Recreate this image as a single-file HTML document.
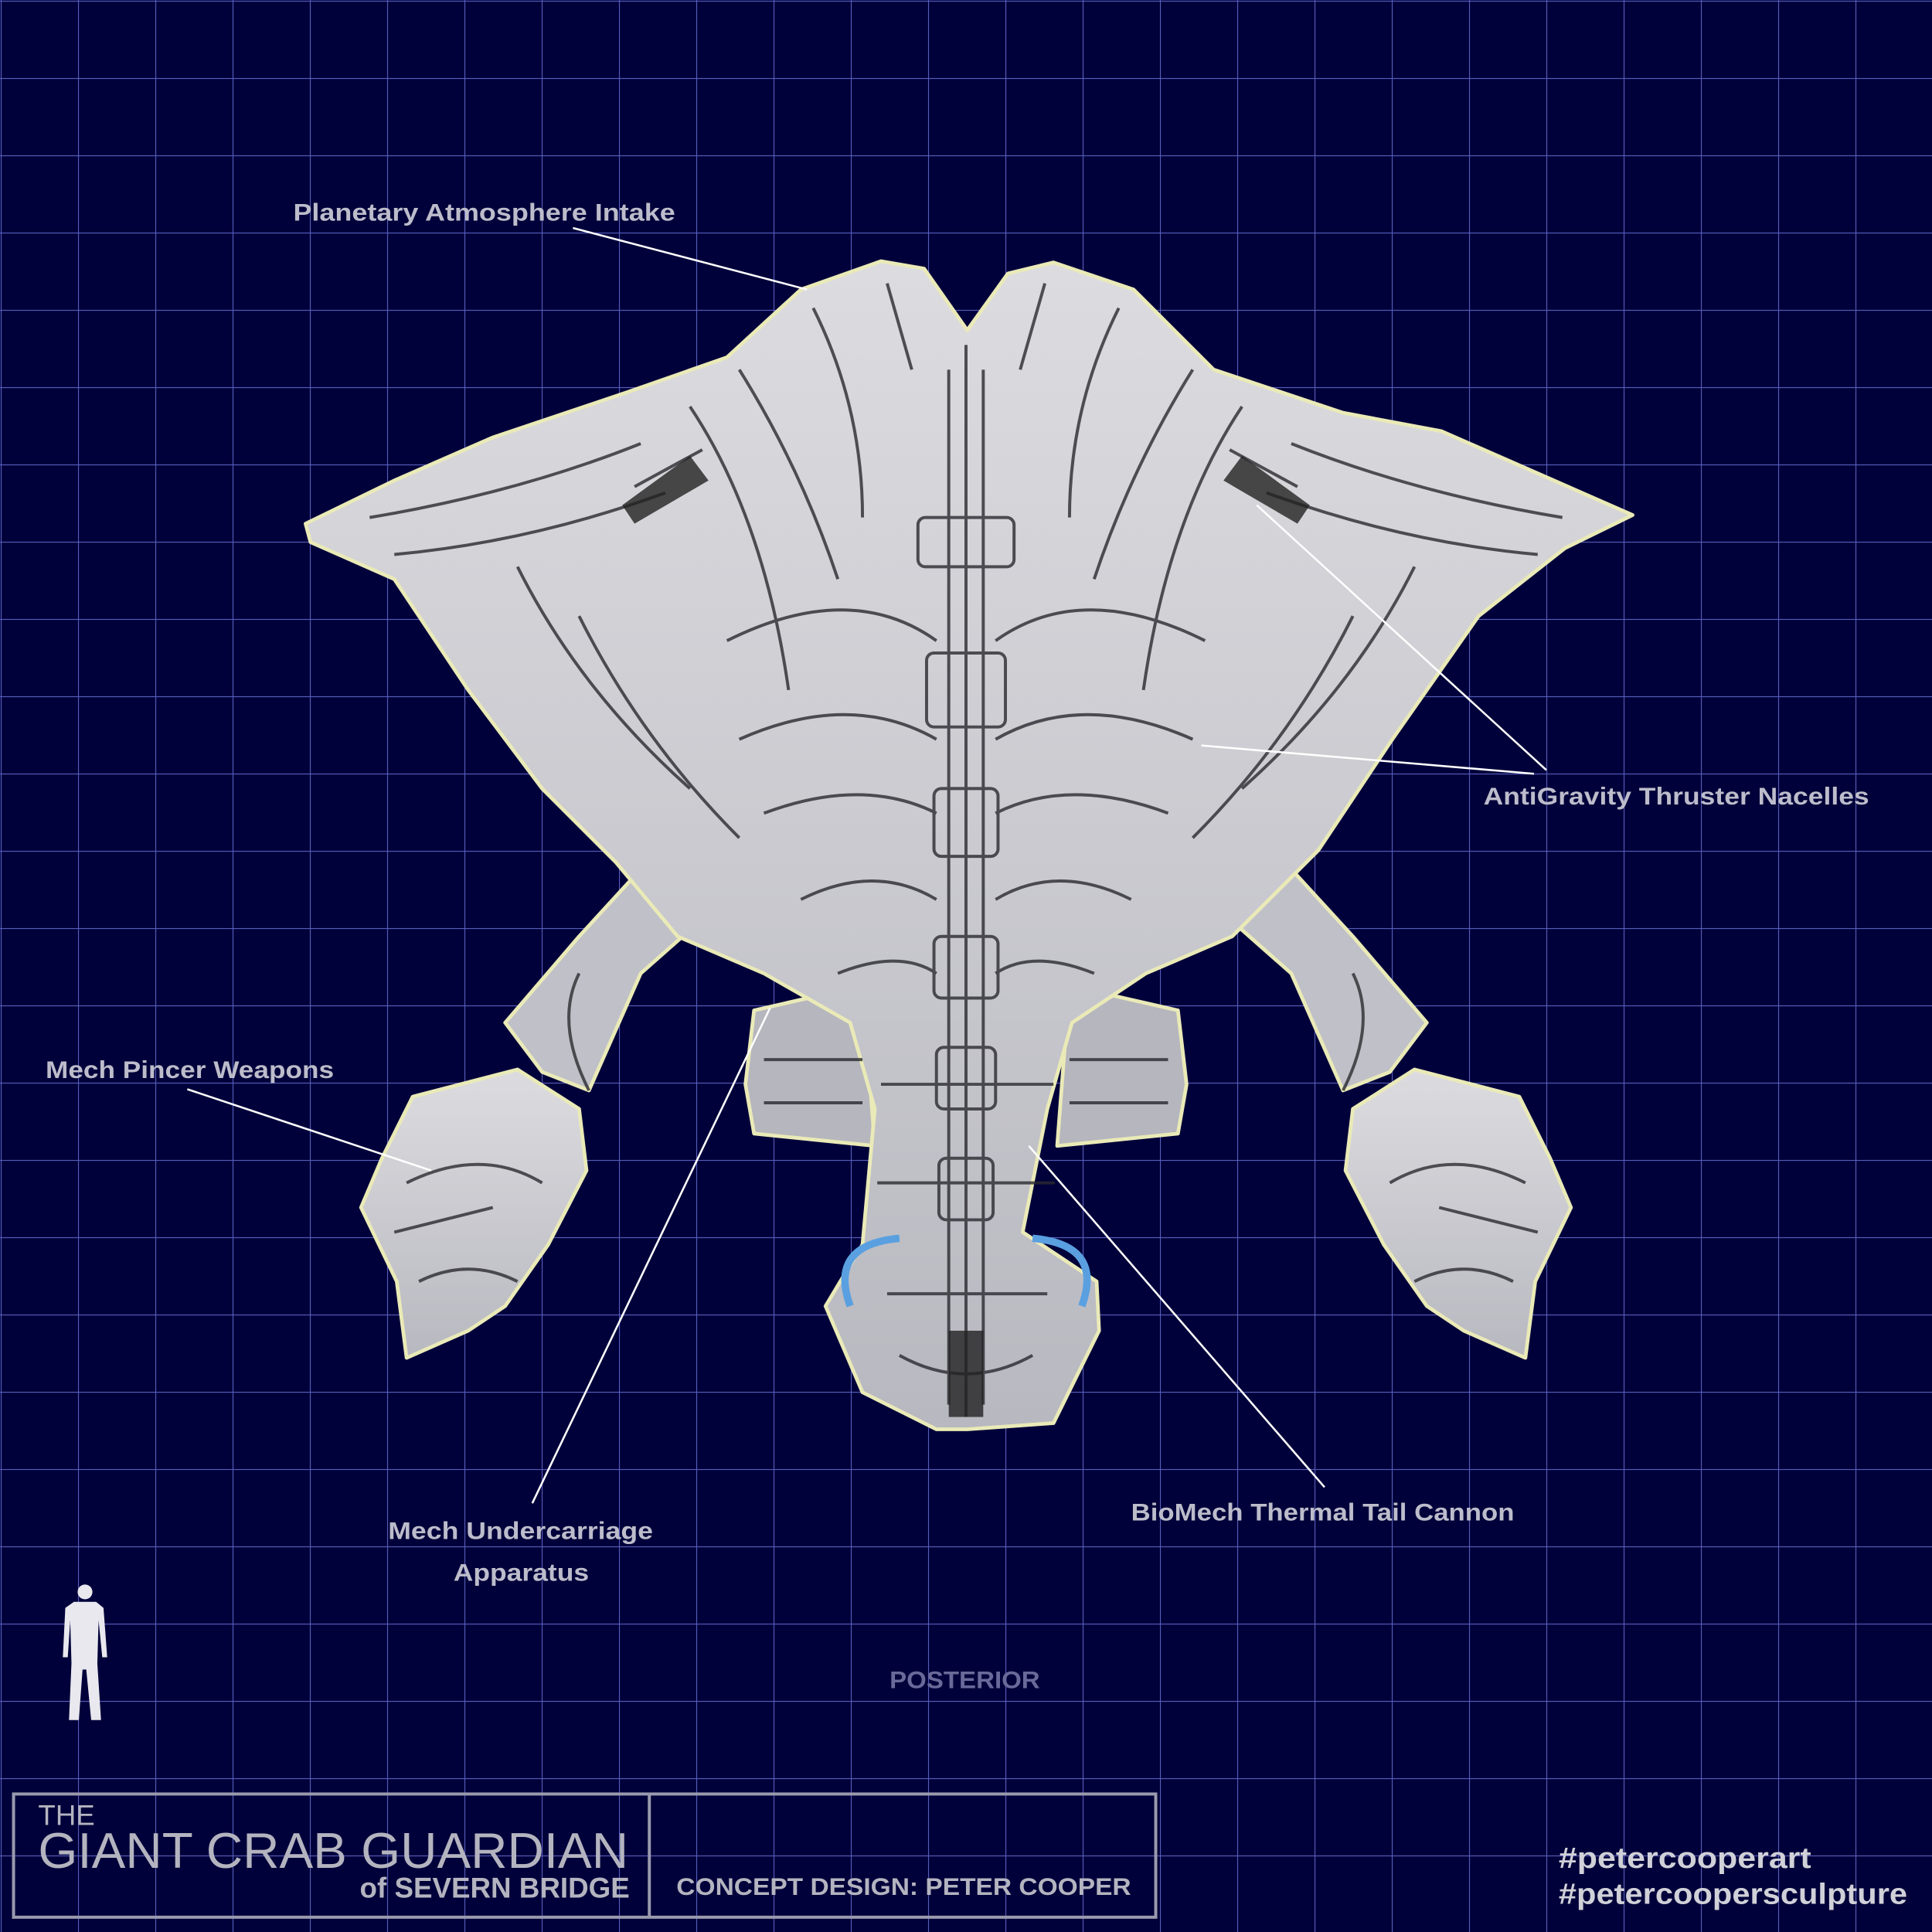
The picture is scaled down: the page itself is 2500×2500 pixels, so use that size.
<!DOCTYPE html>
<html><head><meta charset="utf-8"><style>
html,body{margin:0;padding:0;background:#00003a;}
svg{display:block}
</style></head><body>
<svg width="2500" height="2500" viewBox="0 0 1568 1568" xmlns="http://www.w3.org/2000/svg">
<defs>
<pattern id="g" width="62.72" height="62.72" patternUnits="userSpaceOnUse" x="0.6" y="0.6">
<path d="M0 0H62.72M0 0V62.72" stroke="#5860bc" stroke-width="1.4" fill="none"/>
</pattern>
<linearGradient id="body" x1="0" y1="0" x2="0" y2="1">
<stop offset="0" stop-color="#dcdce0"/><stop offset="1" stop-color="#b8b8c0"/>
</linearGradient>
</defs>
<rect width="1568" height="1568" fill="#00003a"/>
<rect width="1568" height="1568" fill="url(#g)"/>

<g stroke="#eaeab8" stroke-width="3" stroke-linejoin="round">
<polygon fill="#c0c0c8" points="565,675 605,715 520,790 478,885 440,870 410,830 470,760 525,700"/>
<polygon fill="#c0c0c8" points="1003,675 963,715 1048,790 1090,885 1128,870 1158,830 1098,760 1043,700"/>
<polygon fill="url(#body)" points="335,890 420,868 470,900 476,950 445,1010 410,1060 380,1080 330,1102 322,1040 293,980 310,940"/>
<polygon fill="url(#body)" points="1233,890 1148,868 1098,900 1092,950 1123,1010 1158,1060 1188,1080 1238,1102 1246,1040 1275,980 1258,940"/>
<polygon fill="#b6b6be" points="612,820 700,800 710,930 612,920 605,880"/>
<polygon fill="#b6b6be" points="956,820 868,800 858,930 956,920 963,880"/>
<polygon fill="url(#body)" points="248,425 320,390 400,355 510,318 590,290 650,235 715,212 750,218 785,268 818,222 855,213 920,235 985,300 1090,335 1170,350 1325,418 1270,445 1200,500 1130,600 1070,690 1000,760 930,790 870,830 850,900 830,1000 890,1040 892,1080 855,1155 785,1160 760,1160 700,1130 670,1060 700,1010 710,900 690,830 620,790 550,760 500,700 440,640 380,560 320,470 252,440"/>
</g>
<g stroke="#2a2a30" stroke-width="2.5" fill="none" opacity="0.8">
<path d="M300,420 Q420,400 520,360 M1268,420 Q1148,400 1048,360"/>
<path d="M320,450 Q430,440 540,400 M1248,450 Q1138,440 1028,400"/>
<path d="M560,330 Q620,420 640,560 M1008,330 Q948,420 928,560"/>
<path d="M600,300 Q650,380 680,470 M968,300 Q918,380 888,470"/>
<path d="M660,250 Q700,330 700,420 M908,250 Q868,330 868,420"/>
<path d="M720,230 L740,300 M848,230 L828,300"/>
<path d="M420,460 Q470,560 560,640 M1148,460 Q1098,560 1008,640"/>
<path d="M470,500 Q520,600 600,680 M1098,500 Q1048,600 968,680"/>
<path d="M590,520 Q690,470 760,520 M978,520 Q878,470 808,520"/>
<path d="M600,600 Q690,560 760,600 M968,600 Q878,560 808,600"/>
<path d="M620,660 Q700,630 760,660 M948,660 Q868,630 808,660"/>
<path d="M650,730 Q710,700 760,730 M918,730 Q858,700 808,730"/>
<path d="M680,790 Q730,770 760,790 M888,790 Q838,770 808,790"/>
<rect x="745" y="420" width="78" height="40" rx="6"/>
<rect x="752" y="530" width="64" height="60" rx="6"/>
<rect x="758" y="640" width="52" height="55" rx="6"/>
<rect x="758" y="760" width="52" height="50" rx="6"/>
<rect x="760" y="850" width="48" height="50" rx="6"/>
<rect x="762" y="940" width="44" height="50" rx="6"/>
<path d="M784,280 V1150 M770,300 V1140 M798,300 V1140"/>
<path d="M715,880 H855 M712,960 H856 M720,1050 H850"/>
<path d="M515,395 L570,365 M1053,395 L998,365"/>
<path d="M470,790 Q450,830 478,885 M1098,790 Q1118,830 1090,885"/>
<path d="M330,960 Q390,930 440,960 M1238,960 Q1178,930 1128,960"/>
<path d="M340,1040 Q380,1020 420,1040 M1228,1040 Q1188,1020 1148,1040"/>
<path d="M320,1000 L400,980 M1248,1000 L1168,980"/>
<path d="M620,860 H700 M620,895 H700 M948,860 H868 M948,895 H868"/>
<path d="M730,1100 Q784,1130 838,1100"/>
</g>
<g fill="#222" opacity="0.8">
<polygon points="505,410 560,370 575,390 515,425"/>
<polygon points="1063,410 1008,370 993,390 1053,425"/>
<rect x="770" y="1080" width="28" height="70"/>
</g>
<path d="M690,1060 Q672,1010 730,1005 M878,1060 Q896,1010 838,1005" stroke="#5aa0e0" stroke-width="6" fill="none"/>

<g stroke="#ffffff" stroke-width="1.6">
<line x1="465" y1="185" x2="655" y2="235"/>
<line x1="1255" y1="625" x2="1020" y2="410"/>
<line x1="1245" y1="628" x2="975" y2="605"/>
<line x1="152" y1="884" x2="350" y2="950"/>
<line x1="432" y1="1220" x2="625" y2="818"/>
<line x1="1075" y1="1207" x2="835" y2="930"/>
</g>

<g font-family="Liberation Sans, sans-serif" font-weight="bold" fill="#bcbccb" font-size="20">
<text x="238" y="179" textLength="310" lengthAdjust="spacingAndGlyphs">Planetary Atmosphere Intake</text>
<text x="1204" y="653" textLength="313" lengthAdjust="spacingAndGlyphs">AntiGravity Thruster Nacelles</text>
<text x="37" y="875" textLength="234" lengthAdjust="spacingAndGlyphs">Mech Pincer Weapons</text>
<text x="315" y="1249" textLength="215" lengthAdjust="spacingAndGlyphs">Mech Undercarriage</text>
<text x="368" y="1283" textLength="110" lengthAdjust="spacingAndGlyphs">Apparatus</text>
<text x="918" y="1234" textLength="311" lengthAdjust="spacingAndGlyphs">BioMech Thermal Tail Cannon</text>
<text x="722" y="1370" textLength="122" lengthAdjust="spacingAndGlyphs" fill="#6a6a9a">POSTERIOR</text>
</g>

<g fill="#e8e8ee">
<circle cx="69" cy="1292" r="6"/>
<path d="M60,1300 H78 L84,1305 L87,1345 L83,1345 L80,1315 L79,1350 L82,1396 L74,1396 L70,1355 L67,1355 L64,1396 L56,1396 L58,1350 L57,1315 L55,1345 L51,1345 L53,1305 Z"/>
</g>

<g stroke="#9a9aae" stroke-width="2.5" fill="none">
<rect x="11" y="1456" width="927" height="100"/>
<line x1="527" y1="1456" x2="527" y2="1556"/>
</g>
<g font-family="Liberation Sans, sans-serif" fill="#b4b4c0">
<text x="31" y="1481" font-size="23" textLength="46" lengthAdjust="spacingAndGlyphs">THE</text>
<text x="31" y="1516" font-size="41" textLength="479" lengthAdjust="spacingAndGlyphs">GIANT CRAB GUARDIAN</text>
<text x="292" y="1540" font-size="23" font-weight="bold" textLength="219" lengthAdjust="spacingAndGlyphs">of SEVERN BRIDGE</text>
<text x="549" y="1538" font-size="20" font-weight="bold" textLength="369" lengthAdjust="spacingAndGlyphs">CONCEPT DESIGN: PETER COOPER</text>
</g>
<g font-family="Liberation Sans, sans-serif" font-weight="bold" fill="#d0d0d8" font-size="24">
<text x="1265" y="1516" textLength="205" lengthAdjust="spacingAndGlyphs">#petercooperart</text>
<text x="1265" y="1545" textLength="283" lengthAdjust="spacingAndGlyphs">#petercoopersculpture</text>
</g>
</svg>
</body></html>
